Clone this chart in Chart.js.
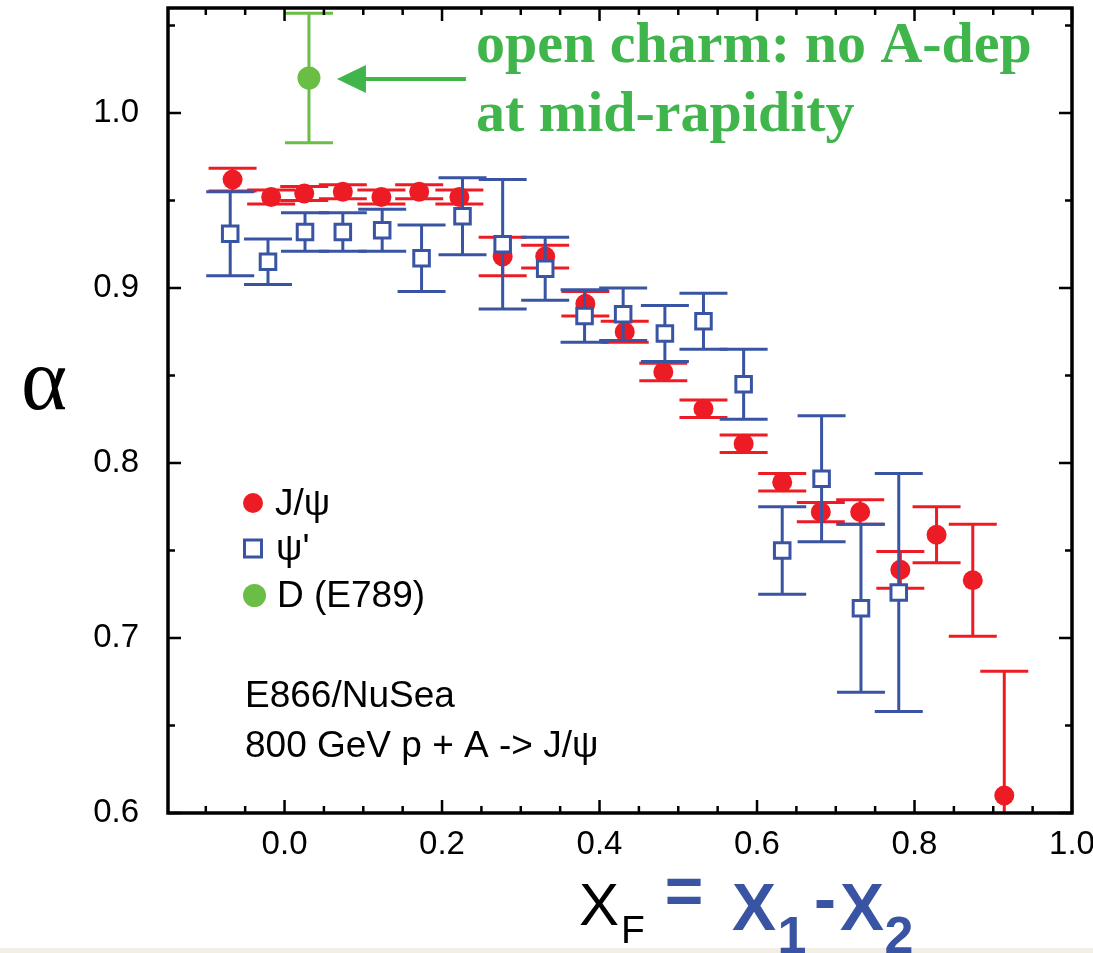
<!DOCTYPE html>
<html>
<head>
<meta charset="utf-8">
<title>alpha vs xF</title>
<script src="https://cdn.jsdelivr.net/npm/chart.js@4.4.1/dist/chart.umd.min.js"></script>
<style>
  html, body { margin: 0; padding: 0; background: #fff; }
  #wrap { width: 1093px; height: 953px; position: relative; }
</style>
</head>
<body>
<div id="wrap"><canvas id="chart"></canvas></div>
<script>
// J/psi (red filled circles)
const jpsiX = [-0.066, -0.017, 0.025, 0.074, 0.123, 0.171, 0.222, 0.277, 0.331, 0.382, 0.432,
  0.481, 0.532, 0.583, 0.632, 0.681, 0.731, 0.782, 0.828, 0.874, 0.914];
const jpsiY = [0.962, 0.952, 0.954, 0.955, 0.952, 0.955, 0.952, 0.918, 0.918, 0.891, 0.875,
  0.852, 0.831, 0.811, 0.789, 0.772, 0.772, 0.739, 0.759, 0.733, 0.610];
const jpsiErr = [0.0065, 0.004, 0.004, 0.004, 0.004, 0.004, 0.004, 0.011, 0.0065, 0.007, 0.006,
  0.005, 0.005, 0.005, 0.005, 0.0055, 0.007, 0.0105, 0.016, 0.032, 0.071];

// psi' (blue open squares)
const psiX = [-0.069, -0.021, 0.026, 0.074, 0.124, 0.174, 0.226, 0.277, 0.331, 0.381, 0.430,
  0.483, 0.532, 0.583, 0.632, 0.682, 0.732, 0.780];
const psiY = [0.931, 0.915, 0.932, 0.932, 0.933, 0.917, 0.941, 0.925, 0.911, 0.884, 0.885,
  0.874, 0.881, 0.845, 0.750, 0.791, 0.717, 0.726];
const psiErr = [0.024, 0.013, 0.011, 0.011, 0.012, 0.019, 0.022, 0.037, 0.018, 0.015, 0.015,
  0.016, 0.016, 0.020, 0.025, 0.036, 0.048, 0.068];

// D mesons, E789 (green)
const dX = [0.031];
const dY = [1.020];
const dErr = [0.037];

const X_TICKS = [0.0, 0.2, 0.4, 0.6, 0.8, 1.0];
const Y_TICKS = [0.6, 0.7, 0.8, 0.9, 1.0];

const RED = "#ed1c24";
const BLUE = "#3a54a4";
const GREEN_PT = "#6abd45";
const GREEN_TXT = "#3fb54b";
const SANS = '"Liberation Sans", Arial, sans-serif';
const SERIF = '"Liberation Serif", "Times New Roman", serif';
const CAP = 24;

function pts(xs, ys) {
  return xs.map((x, i) => ({ x, y: ys[i] }));
}

const background = {
  id: "background",
  beforeDraw(chart) {
    const { ctx, width, height } = chart;
    ctx.save();
    ctx.fillStyle = "#fff";
    ctx.fillRect(0, 0, width, height);
    ctx.fillStyle = "#f3eee5";
    ctx.fillRect(0, height - 5, width, 5);
    ctx.restore();
  }
};

// vertical error bars with caps, drawn just before each dataset's markers
const errorBars = {
  id: "errorBars",
  beforeDatasetDraw(chart, args) {
    const ds = chart.data.datasets[args.index];
    if (!ds.errors) return;
    const { ctx, chartArea: a, scales: { x, y } } = chart;
    ctx.save();
    ctx.beginPath();
    ctx.rect(a.left, a.top, a.width, a.height);
    ctx.clip();
    ctx.strokeStyle = ds.barColor;
    ctx.lineWidth = 3;
    ds.data.forEach((p, i) => {
      const e = ds.errors[i];
      const px = x.getPixelForValue(p.x);
      const top = y.getPixelForValue(p.y + e);
      const bot = y.getPixelForValue(p.y - e);
      ctx.beginPath();
      ctx.moveTo(px, top); ctx.lineTo(px, bot);
      ctx.moveTo(px - CAP, top); ctx.lineTo(px + CAP, top);
      ctx.moveTo(px - CAP, bot); ctx.lineTo(px + CAP, bot);
      ctx.stroke();
    });
    ctx.restore();
  }
};

// boxed frame with inward major/minor ticks on all four sides
const frame = {
  id: "frame",
  afterDraw(chart) {
    const { ctx, chartArea: a, scales: { x, y } } = chart;
    ctx.save();
    ctx.strokeStyle = "#000";
    ctx.lineWidth = 2.5;
    ctx.beginPath();
    for (let k = -3; k <= 20; k++) {
      const v = k * 0.05;
      if (v < x.min - 1e-9 || v > x.max + 1e-9) continue;
      const len = k % 4 === 0 ? 13 : 7;
      const px = x.getPixelForValue(v);
      ctx.moveTo(px, a.bottom); ctx.lineTo(px, a.bottom - len);
      ctx.moveTo(px, a.top); ctx.lineTo(px, a.top + len);
    }
    for (let k = 12; k <= 21; k++) {
      const v = k * 0.05;
      if (v < y.min - 1e-9 || v > y.max + 1e-9) continue;
      const len = k % 2 === 0 ? 13 : 7;
      const py = y.getPixelForValue(v);
      ctx.moveTo(a.left, py); ctx.lineTo(a.left + len, py);
      ctx.moveTo(a.right, py); ctx.lineTo(a.right - len, py);
    }
    ctx.stroke();
    ctx.lineWidth = 3.5;
    ctx.strokeRect(a.left, a.top, a.right - a.left, a.bottom - a.top);
    ctx.restore();
  }
};

const annotations = {
  id: "annotations",
  afterDraw(chart) {
    const { ctx, scales: { x, y } } = chart;
    ctx.save();

    // green note + arrow pointing to the D point
    const tipX = x.getPixelForValue(dX[0]) + 28;
    const tipY = y.getPixelForValue(dY[0]) + 1;
    ctx.fillStyle = GREEN_TXT;
    ctx.strokeStyle = GREEN_TXT;
    ctx.lineWidth = 4;
    ctx.beginPath();
    ctx.moveTo(tipX + 25, tipY);
    ctx.lineTo(tipX + 129, tipY);
    ctx.stroke();
    ctx.beginPath();
    ctx.moveTo(tipX, tipY);
    ctx.lineTo(tipX + 29, tipY - 14);
    ctx.lineTo(tipX + 29, tipY + 14);
    ctx.closePath();
    ctx.fill();
    ctx.font = "bold 58px " + SERIF;
    ctx.textAlign = "left";
    ctx.textBaseline = "alphabetic";
    ctx.fillText("open charm: no A-dep", 476, 62);
    ctx.fillText("at mid-rapidity", 476, 131);

    // legend
    ctx.fillStyle = RED;
    ctx.beginPath(); ctx.arc(253, 503, 10, 0, Math.PI * 2); ctx.fill();
    ctx.strokeStyle = BLUE;
    ctx.lineWidth = 3;
    ctx.fillStyle = "#fff";
    ctx.fillRect(244.5, 540, 17, 17);
    ctx.strokeRect(244.5, 540, 17, 17);
    ctx.fillStyle = GREEN_PT;
    ctx.beginPath(); ctx.arc(254.5, 595.5, 11.5, 0, Math.PI * 2); ctx.fill();

    ctx.fillStyle = "#000";
    ctx.font = "37px " + SANS;
    ctx.fillText("J/\u03c8", 275, 515);
    ctx.fillText("\u03c8'", 276, 560);
    ctx.fillText("D (E789)", 277, 607);
    ctx.fillText("E866/NuSea", 245, 707);
    ctx.fillText("800 GeV p + A -> J/\u03c8", 245, 757);

    // y title
    ctx.textAlign = "center";
    ctx.font = "88px " + SERIF;
    ctx.fillText("\u03b1", 44, 409);

    // x title: X_F = x_1 - x_2
    ctx.font = "60px " + SANS;
    ctx.fillText("X", 599, 925);
    ctx.font = "39px " + SANS;
    ctx.fillText("F", 633, 943);
    ctx.fillStyle = BLUE;
    ctx.font = "bold 66px " + SANS;
    ctx.textBaseline = "middle";
    ctx.fillText("=", 684, 896);
    ctx.fillText("-", 825, 903);
    ctx.textBaseline = "alphabetic";
    ctx.fillText("X", 754, 930);
    ctx.fillText("X", 862, 930);
    ctx.font = "bold 52px " + SANS;
    ctx.fillText("1", 792, 953);
    ctx.fillText("2", 899, 953);
    ctx.restore();
  }
};

new Chart(document.getElementById("chart"), {
  type: "scatter",
  data: {
    datasets: [
      {
        label: "\u03c8'",
        data: pts(psiX, psiY),
        errors: psiErr,
        barColor: BLUE,
        pointStyle: "rect",
        pointRadius: 11,
        borderColor: BLUE,
        backgroundColor: "#fff",
        borderWidth: 3,
        order: 0,
        clip: false
      },
      {
        label: "J/\u03c8",
        data: pts(jpsiX, jpsiY),
        errors: jpsiErr,
        barColor: RED,
        pointStyle: "circle",
        pointRadius: 10,
        borderColor: RED,
        backgroundColor: RED,
        borderWidth: 0,
        order: 1,
        clip: false
      },
      {
        label: "D (E789)",
        data: pts(dX, dY),
        errors: dErr,
        barColor: GREEN_PT,
        pointStyle: "circle",
        pointRadius: 11.5,
        borderColor: GREEN_PT,
        backgroundColor: GREEN_PT,
        borderWidth: 0,
        order: 2,
        clip: false
      }
    ]
  },
  options: {
    responsive: true,
    maintainAspectRatio: false,
    animation: false,
    events: [],
    layout: { autoPadding: false, padding: { top: 8, right: 21, bottom: 0, left: 0 } },
    plugins: { legend: { display: false }, tooltip: { enabled: false } },
    scales: {
      x: {
        type: "linear",
        min: -0.148,
        max: 1.0,
        grid: { display: false, drawTicks: false },
        border: { display: false },
        ticks: {
          color: "#000",
          font: { family: SANS, size: 33 },
          padding: 12,
          maxRotation: 0,
          autoSkip: false,
          callback: (v) => Number(v).toFixed(1)
        },
        afterBuildTicks: (s) => { s.ticks = X_TICKS.map((v) => ({ value: v })); },
        afterFit: (s) => { s.height = 140; s.paddingLeft = 0; s.paddingRight = 0; }
      },
      y: {
        type: "linear",
        min: 0.6,
        max: 1.06,
        grid: { display: false, drawTicks: false },
        border: { display: false },
        ticks: {
          color: "#000",
          font: { family: SANS, size: 33 },
          padding: 29,
          autoSkip: false,
          callback: (v) => Number(v).toFixed(1)
        },
        afterBuildTicks: (s) => { s.ticks = Y_TICKS.map((v) => ({ value: v })); },
        afterFit: (s) => { s.width = 168; s.paddingTop = 0; s.paddingBottom = 0; }
      }
    }
  },
  plugins: [background, errorBars, frame, annotations]
});
</script>
</body>
</html>
